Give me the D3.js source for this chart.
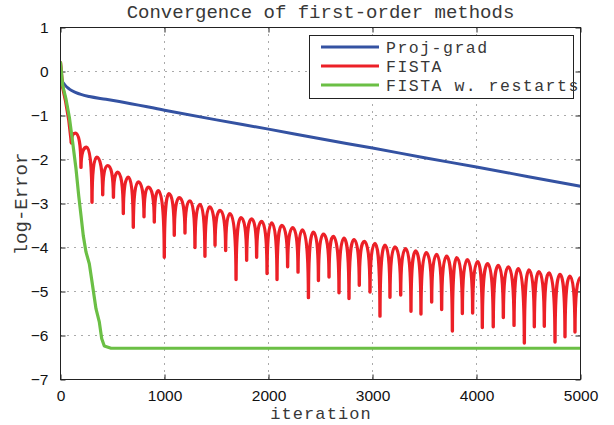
<!DOCTYPE html>
<html>
<head>
<meta charset="utf-8">
<script src="https://cdn.jsdelivr.net/npm/d3@7"></script>
<style>
  html, body { margin: 0; padding: 0; background: #fff; }
  svg { display: block; }
</style>
</head>
<body>
<svg id="chart" width="614" height="425"></svg>
<script>
// ---------- data ----------
const xTicks = [0, 1000, 2000, 3000, 4000, 5000];
const yTicks = [1, 0, -1, -2, -3, -4, -5, -6, -7];
const seriesNames = ["Proj-grad", "FISTA", "FISTA w. restarts"];
const seriesColors = ["#3452a2", "#ec2027", "#6bbf45"];

// Proj-grad
const projGrad = [
  [0, 0.17], [5, -0.1], [15, -0.2], [37, -0.29], [85, -0.40], [149, -0.48],
  [277, -0.57], [437, -0.63], [565, -0.68], [1000, -0.88], [1500, -1.10],
  [2000, -1.31], [2500, -1.53], [3000, -1.74], [3500, -1.96], [4000, -2.17],
  [4500, -2.39], [5000, -2.61]
];

// FISTA: initial descent
const fistaHead = [[0, 0.2], [20, -0.35], [50, -0.68], [80, -1.1], [105, -1.62]];
// FISTA: alternating trough / peak values
const fistaOsc = [
  [105, -1.62], [143, -1.40], [197, -2.18], [252, -1.72], [303, -2.97], [348, -1.95],
  [406, -2.80], [454, -2.14], [509, -2.86], [550, -2.29], [604, -3.23], [652, -2.40],
  [700, -3.54], [748, -2.51], [803, -3.30], [844, -2.63], [902, -3.42], [940, -2.71],
  [998, -4.22], [1043, -2.78], [1094, -3.72], [1142, -2.87], [1197, -3.67], [1245, -2.94],
  [1293, -4.00], [1341, -3.02], [1389, -4.20], [1433, -3.08], [1486, -3.95], [1534, -3.16],
  [1588, -4.07], [1630, -3.23], [1688, -4.73], [1736, -3.32], [1790, -4.29], [1838, -3.35],
  [1886, -4.22], [1934, -3.41], [1986, -4.59], [2031, -3.44], [2082, -4.73], [2127, -3.50],
  [2184, -4.44], [2233, -3.55], [2284, -4.56], [2326, -3.60], [2384, -5.14], [2432, -3.65],
  [2480, -4.75], [2528, -3.70], [2582, -4.67], [2623, -3.75], [2678, -5.03], [2726, -3.79],
  [2774, -5.16], [2822, -3.82], [2873, -4.86], [2921, -3.86], [2976, -5.01], [3024, -3.91],
  [3072, -5.56], [3120, -3.95], [3168, -5.13], [3216, -3.99], [3271, -5.08], [3319, -4.03],
  [3370, -5.45], [3415, -4.08], [3466, -5.51], [3517, -4.12], [3569, -5.24], [3617, -4.16],
  [3665, -5.41], [3713, -4.20], [3768, -5.90], [3810, -4.23], [3864, -5.50], [3912, -4.28],
  [3963, -5.49], [4011, -4.32], [4056, -5.82], [4107, -4.37], [4161, -5.80], [4210, -4.41],
  [4258, -5.59], [4306, -4.44], [4361, -5.77], [4402, -4.48], [4460, -6.17], [4505, -4.51],
  [4556, -5.80], [4601, -4.55], [4652, -5.79], [4697, -4.58], [4755, -6.15], [4803, -4.61],
  [4851, -6.03], [4899, -4.65], [4947, -5.92], [5000, -4.68]
];

// FISTA with restarts
const fistaRestart = [
  [0, 0.2], [21, -0.32], [53, -0.63], [85, -1.04], [117, -1.61], [149, -2.21],
  [175, -2.82], [197, -3.27], [219, -3.73], [245, -4.10], [277, -4.37], [303, -4.78],
  [341, -5.39], [373, -5.69], [396, -6.07], [421, -6.24], [486, -6.29], [1000, -6.29],
  [5000, -6.29]
];

// ---------- layout ----------
const svg = d3.select("#chart");
const x = d3.scaleLinear().domain([0, 5000]).range([60.5, 580.5]);
const y = d3.scaleLinear().domain([-7, 1]).range([379.5, 27.5]);
const mono = "'Liberation Mono', 'DejaVu Sans Mono', monospace";
const sans = "'Liberation Sans', Arial, Helvetica, sans-serif";
const textCol = "#383838";

svg.append("defs").append("clipPath").attr("id", "clip")
  .append("rect").attr("x", 60.5).attr("y", 27.5).attr("width", 520).attr("height", 352);

// grid
const grid = svg.append("g").attr("stroke", "#555").attr("stroke-width", 1)
  .attr("stroke-dasharray", "1,6");
xTicks.slice(1, -1).forEach(t => {
  grid.append("line").attr("x1", x(t)).attr("x2", x(t)).attr("y1", y(1)).attr("y2", y(-7));
});
yTicks.slice(1, -1).forEach(t => {
  grid.append("line").attr("x1", x(0)).attr("x2", x(5000)).attr("y1", y(t)).attr("y2", y(t));
});

// axes with inward ticks on all sides
const axisCol = "#222";
const gBottom = svg.append("g").attr("transform", `translate(0,${y(-7)})`)
  .call(d3.axisBottom(x).tickValues(xTicks).tickSizeInner(-5).tickSizeOuter(0).tickPadding(10)
    .tickFormat(d3.format("d")));
const gTop = svg.append("g").attr("transform", `translate(0,${y(1)})`)
  .call(d3.axisTop(x).tickValues(xTicks).tickSizeInner(-5).tickSizeOuter(0).tickFormat(""));
const gLeft = svg.append("g").attr("transform", `translate(${x(0)},0)`)
  .call(d3.axisLeft(y).tickValues(yTicks).tickSizeInner(-5).tickSizeOuter(0).tickPadding(11)
    .tickFormat(d => d < 0 ? "\u2212" + Math.abs(d) : String(d)));
const gRight = svg.append("g").attr("transform", `translate(${x(5000)},0)`)
  .call(d3.axisRight(y).tickValues(yTicks).tickSizeInner(-5).tickSizeOuter(0).tickFormat(""));
[gBottom, gTop, gLeft, gRight].forEach(g => {
  g.select(".domain").remove();
  g.selectAll(".tick line").attr("stroke", axisCol);
  g.selectAll("text").attr("font-family", sans).attr("font-size", "15.5px").attr("fill", "#111");
});
gLeft.selectAll("text").attr("dx", "-1");

// series
const plot = svg.append("g").attr("clip-path", "url(#clip)")
  .attr("fill", "none").attr("stroke-linejoin", "round").attr("stroke-linecap", "round");

const smooth = d3.line().x(d => x(d[0])).y(d => y(d[1])).curve(d3.curveMonotoneX);
const straight = d3.line().x(d => x(d[0])).y(d => y(d[1]));

// custom curve: sharp cusps at troughs, rounded peaks
function cuspCurve(context) {
  let pts = [];
  return {
    areaStart() {}, areaEnd() {},
    lineStart() { pts = []; },
    point(px, py) { pts.push([px, py]); },
    lineEnd() {
      if (!pts.length) return;
      context.moveTo(pts[0][0], pts[0][1]);
      for (let i = 1; i < pts.length; i++) {
        const [ax, ay] = pts[i - 1], [bx, by] = pts[i];
        const w = bx - ax, h = by - ay;
        if (by < ay) {
          context.bezierCurveTo(ax, ay + h * 0.7, bx - w * 0.6, by, bx, by);
        } else {
          context.bezierCurveTo(ax + w * 0.6, ay, bx, by - h * 0.7, bx, by);
        }
      }
    }
  };
}
const cusp = d3.line().x(d => x(d[0])).y(d => y(d[1])).curve(cuspCurve);

plot.append("path").attr("d", smooth(projGrad)).attr("stroke", seriesColors[0]).attr("stroke-width", 3);
plot.append("path").attr("d", straight(fistaHead)).attr("stroke", seriesColors[1]).attr("stroke-width", 3.4);
plot.append("path").attr("d", cusp(fistaOsc)).attr("stroke", seriesColors[1]).attr("stroke-width", 3.4);
plot.append("path").attr("d", straight(fistaRestart)).attr("stroke", seriesColors[2]).attr("stroke-width", 3.2);

// axis box
svg.append("rect").attr("x", 60.5).attr("y", 27.5).attr("width", 520).attr("height", 352)
  .attr("fill", "none").attr("stroke", axisCol).attr("stroke-width", 1);

// titles
svg.append("text").attr("x", 320.5).attr("y", 18).attr("text-anchor", "middle")
  .attr("font-family", mono).attr("font-size", "19px").attr("fill", textCol)
  .text("Convergence of first-order methods");
svg.append("text").attr("x", 321).attr("y", 419).attr("text-anchor", "middle")
  .attr("font-family", mono).attr("font-size", "17px").attr("letter-spacing", "1.1px")
  .attr("fill", textCol).text("iteration");
svg.append("text").attr("transform", "translate(27,204) rotate(-90)").attr("text-anchor", "middle")
  .attr("font-family", mono).attr("font-size", "19px").attr("fill", textCol)
  .text("log-Error");

// legend
const lg = svg.append("g");
lg.append("rect").attr("x", 309.5).attr("y", 35.5).attr("width", 264).attr("height", 63)
  .attr("fill", "#fff").attr("stroke", axisCol).attr("stroke-width", 1);
seriesNames.forEach((name, i) => {
  const cy = 47 + i * 19;
  lg.append("line").attr("x1", 321).attr("x2", 379).attr("y1", cy).attr("y2", cy)
    .attr("stroke", seriesColors[i]).attr("stroke-width", 3);
  lg.append("text").attr("x", 386).attr("y", cy + 5.5).attr("font-family", mono)
    .attr("font-size", "16.5px").attr("letter-spacing", "1.5px")
    .attr("fill", textCol).text(name);
});
</script>
</body>
</html>
